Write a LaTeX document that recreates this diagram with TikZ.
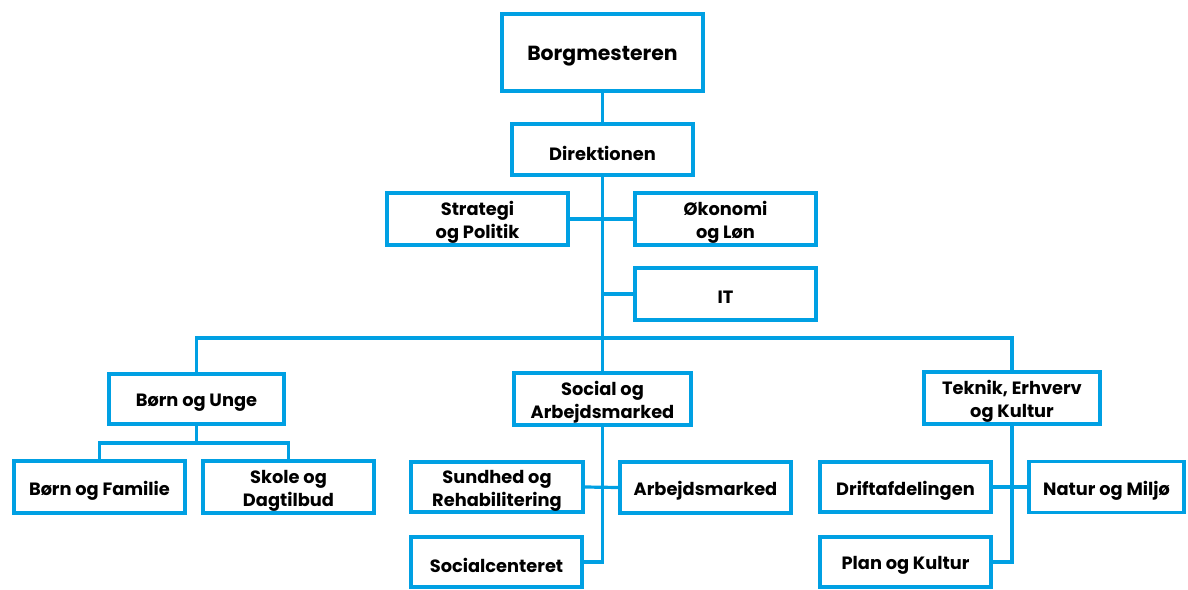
\documentclass[tikz,border=0pt]{standalone}
\usepackage{fontspec}
\setmainfont{Poppins}
\definecolor{orgblue}{RGB}{0,160,227}
\begin{document}
\begin{tikzpicture}[x=1pt,y=-1pt,
  box/.style={draw=orgblue,line width=3.8pt,fill=white,inner sep=0pt},
  txt/.style={align=center,font=\fontsize{17.8}{23}\selectfont\bfseries,inner sep=0pt,yshift=-3.5pt},
  big/.style={align=center,font=\fontsize{20.4}{23}\selectfont\bfseries,inner sep=0pt,yshift=-4pt},
  link/.style={draw=orgblue,line width=3.2pt}]
\useasboundingbox (0,0) rectangle (1188,589);
\node[box,minimum width=201pt,minimum height=77pt,label={[big]center:Borgmesteren}] (borg) at (602.5,52.5) {};
\node[box,minimum width=181pt,minimum height=51pt,label={[txt]center:Direktionen}] (dir) at (602.5,149.5) {};
\node[box,minimum width=181pt,minimum height=52pt,label={[txt]center:{Strategi\\og Politik}}] (strat) at (477.5,219) {};
\node[box,minimum width=181pt,minimum height=52pt,label={[txt]center:{Økonomi\\og Løn}}] (oko) at (725.5,219) {};
\node[box,minimum width=181pt,minimum height=52pt,label={[txt]center:IT}] (it) at (725.5,294) {};
\node[box,minimum width=175pt,minimum height=50pt,label={[txt]center:Børn og Unge}] (bu) at (196.5,399) {};
\node[box,minimum width=177pt,minimum height=52pt,label={[txt]center:{Social og\\Arbejdsmarked}}] (sa) at (602.5,399) {};
\node[box,minimum width=176pt,minimum height=52pt,label={[txt]center:{Teknik, Erhverv\\og Kultur}}] (tek) at (1012,398) {};
\node[box,minimum width=171pt,minimum height=52pt,label={[txt]center:Børn og Familie}] (bf) at (99.5,487) {};
\node[box,minimum width=171pt,minimum height=52pt,label={[txt]center:{Skole og\\Dagtilbud}}] (sk) at (288.5,487) {};
\node[box,minimum width=172pt,minimum height=50pt,label={[txt]center:{Sundhed og\\Rehabilitering}}] (sun) at (497,487) {};
\node[box,minimum width=171pt,minimum height=51pt,label={[txt]center:Arbejdsmarked}] (arb) at (705.5,487.5) {};
\node[box,minimum width=171pt,minimum height=50pt,label={[txt]center:Socialcenteret}] (soc) at (496.5,562) {};
\node[box,minimum width=171pt,minimum height=50pt,label={[txt]center:Driftafdelingen}] (drift) at (905.5,487) {};
\node[box,minimum width=155pt,minimum height=51pt,label={[txt]center:Natur og Miljø}] (natur) at (1106.5,487) {};
\node[box,minimum width=171pt,minimum height=50pt,label={[txt]center:Plan og Kultur}] (plan) at (905.5,562) {};
\coordinate (bus) at (602.5,338);
\coordinate (sbus) at (196.5,443);
\draw[link] (borg.south) -- (dir.north);
\draw[link] (dir.south) -- (sa.north);
\draw[link] (strat.east) -- (oko.west);
\draw[link] (it.west) -- (it.west -| dir.south);
\draw[link] (bu.north) |- (bus) -| (tek.north);
\draw[link] (bu.south) -- (sbus);
\draw[link] (bf.north) |- (sbus) -| (sk.north);
\draw[link] (sa.south) |- (soc.east);
\draw[link] (sun.east) -- (arb.west);
\draw[link] (tek.south) |- (plan.east);
\draw[link] (drift.east) -- (natur.west);
\end{tikzpicture}
\end{document}
